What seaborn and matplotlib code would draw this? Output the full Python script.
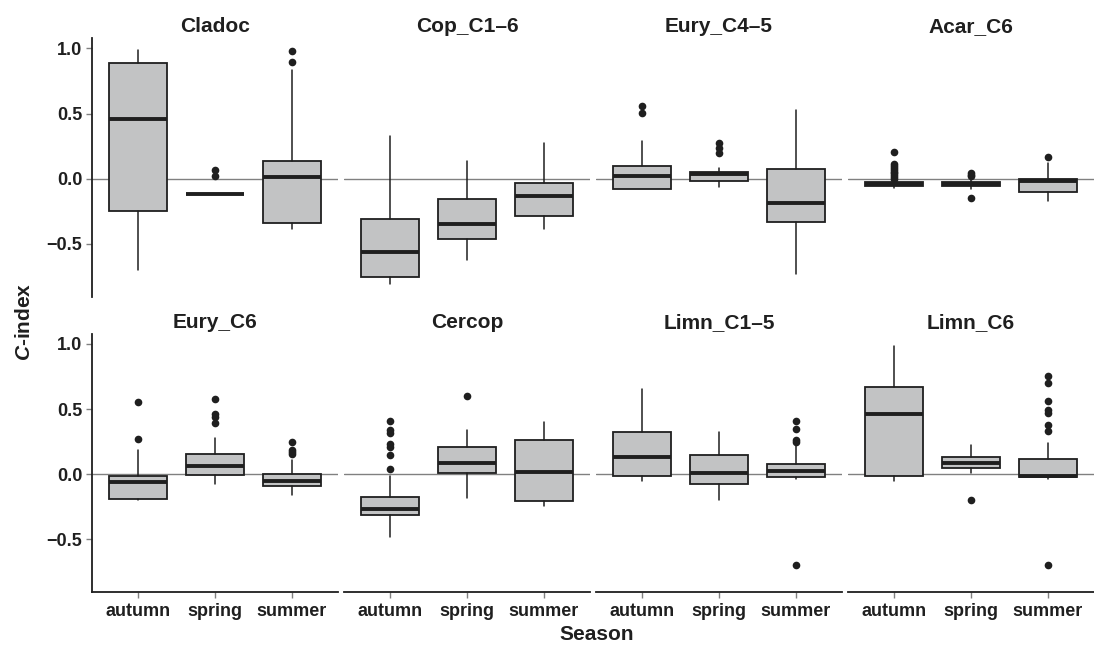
import numpy as np
import pandas as pd
import matplotlib
matplotlib.use("Agg")
import matplotlib.pyplot as plt
import seaborn as sns

# Panels and seasons
PANELS = ["Cladoc", "Cop_C1–6", "Eury_C4–5", "Acar_C6",
          "Eury_C6", "Cercop", "Limn_C1–5", "Limn_C6"]
SEASONS = ["autumn", "spring", "summer"]

# Box statistics per panel, one value per season (autumn, spring, summer)
WHISLO = [[-0.70, -0.117, -0.39], [-0.806, -0.627, -0.385], [-0.082, -0.064, -0.734], [-0.074, -0.079, -0.174],
          [-0.195, -0.077, -0.159], [-0.483, -0.184, -0.243], [-0.049, -0.202, -0.038], [-0.052, 0.008, -0.036]]
Q1 = [[-0.247, -0.117, -0.337], [-0.755, -0.462, -0.283], [-0.082, -0.020, -0.331], [-0.054, -0.056, -0.102],
      [-0.192, -0.005, -0.090], [-0.315, 0.010, -0.207], [-0.013, -0.077, -0.021], [-0.015, 0.048, -0.023]]
MEDIAN = [[0.461, -0.117, 0.010], [-0.561, -0.347, -0.135], [0.018, 0.036, -0.186], [-0.040, -0.043, -0.018],
          [-0.059, 0.064, -0.049], [-0.264, 0.084, 0.015], [0.130, 0.008, 0.025], [0.460, 0.087, -0.011]]
Q3 = [[0.885, -0.117, 0.138], [-0.306, -0.158, -0.031], [0.097, 0.051, 0.077], [-0.025, -0.028, -0.002],
      [-0.013, 0.151, 0.002], [-0.174, 0.207, 0.261], [0.325, 0.146, 0.081], [0.667, 0.133, 0.117]]
WHISHI = [[0.987, -0.117, 0.834], [0.331, 0.138, 0.273], [0.291, 0.082, 0.528], [-0.010, -0.010, 0.120],
          [0.187, 0.281, 0.105], [-0.013, 0.340, 0.399], [0.652, 0.322, 0.222], [0.987, 0.227, 0.238]]
FLIERS = [
    [[], [0.069, 0.018], [0.979, 0.893]],
    [[], [], []],
    [[0.559, 0.503], [0.273, 0.235, 0.200], []],
    [[0.204, 0.115, 0.100, 0.085, 0.070, 0.055, 0.040, 0.025, 0.010, 0.000],
     [0.043, 0.030, 0.020, -0.151], [0.166]],
    [[0.557, 0.269], [0.578, 0.460, 0.440, 0.391], [0.248, 0.187, 0.167, 0.155]],
    [[0.412, 0.340, 0.319, 0.233, 0.207, 0.148, 0.038], [0.599], []],
    [[], [], [0.412, 0.345, 0.263, 0.248, -0.701]],
    [[], [-0.202], [0.754, 0.703, 0.565, 0.493, 0.468, 0.378, 0.335, -0.701]],
]

rows = []
for p, panel in enumerate(PANELS):
    for s, season in enumerate(SEASONS):
        rows.append(dict(panel=panel, season=season, pos=s,
                         whislo=WHISLO[p][s], q1=Q1[p][s], med=MEDIAN[p][s],
                         q3=Q3[p][s], whishi=WHISHI[p][s], fliers=FLIERS[p][s]))
df = pd.DataFrame(rows)

sns.set_theme(style="ticks")
plt.rcParams["font.family"] = ["Liberation Sans", "DejaVu Sans"]
plt.rcParams["font.weight"] = "bold"
plt.rcParams["mathtext.fontset"] = "custom"
plt.rcParams["mathtext.bfit"] = "Liberation Sans:italic:bold"
plt.rcParams["mathtext.rm"] = "Liberation Sans:bold"

INK = "#1f1f1f"
FILL = "#c2c3c4"
GREY = "#808080"


def draw_boxes(data, **kws):
    ax = plt.gca()
    ax.axhline(0, color=GREY, lw=1.0, zorder=0)
    stats = [dict(whislo=r.whislo, q1=r.q1, med=r.med, q3=r.q3,
                  whishi=r.whishi, fliers=np.array(r.fliers))
             for r in data.itertuples()]
    ax.bxp(stats, positions=data["pos"].tolist(), widths=0.75,
           patch_artist=True, showcaps=False, manage_ticks=False,
           boxprops=dict(facecolor=FILL, edgecolor=INK, linewidth=1.3),
           medianprops=dict(color=INK, linewidth=2.8, solid_capstyle="butt"),
           whiskerprops=dict(color=INK, linewidth=1.1),
           flierprops=dict(marker="o", markerfacecolor=INK, markeredgecolor="none",
                           markersize=5.5))


g = sns.FacetGrid(df, col="panel", col_wrap=4, col_order=PANELS,
                  sharex=True, sharey=True, height=2.6, aspect=1.0, despine=False)
g.map_dataframe(draw_boxes)
g.figure.set_size_inches(10.94, 6.5)
g.figure.subplots_adjust(left=0.084, right=1.0, top=0.9415, bottom=0.0892,
                         wspace=0.024, hspace=0.143)

for i, ax in enumerate(g.axes.flat):
    ax.set_xlim(-0.6, 2.6)
    ax.set_ylim(-0.905, 1.08)
    ax.set_title(PANELS[i], fontsize=15, fontweight="bold", pad=4, color=INK)
    ax.set_xlabel("")
    ax.set_ylabel("")
    for side in ["top", "right"]:
        ax.spines[side].set_visible(False)
    ax.spines["left"].set_color(INK)
    ax.spines["bottom"].set_color(INK)
    ax.spines["left"].set_linewidth(1.3)
    ax.spines["bottom"].set_linewidth(1.3)
    ax.tick_params(axis="both", color=GREY, length=4, width=1.0,
                   labelsize=13, labelcolor=INK, pad=3)
    ax.set_yticks([-0.5, 0.0, 0.5, 1.0])
    ax.set_yticklabels(["−0.5", "0.0", "0.5", "1.0"], fontweight="bold")
    ax.set_xticks([0, 1, 2])
    ax.set_xticklabels(SEASONS, fontweight="bold")
    if i % 4 != 0:
        ax.spines["left"].set_visible(False)
        ax.tick_params(axis="y", left=False, labelleft=False)
    if i < 4:
        ax.spines["bottom"].set_visible(False)
        ax.tick_params(axis="x", bottom=False, labelbottom=False)
    else:
        ax.tick_params(axis="x", bottom=True, labelbottom=True, pad=4)

g.figure.text(0.022, 0.505, r"$\mathbfit{C}$-index", rotation=90, ha="center", va="center",
              fontsize=15, fontweight="bold", color=INK)
g.figure.text(0.545, 0.024, "Season", ha="center", va="center",
              fontsize=15, fontweight="bold", color=INK)

g.figure.savefig("out.png", dpi=100)
